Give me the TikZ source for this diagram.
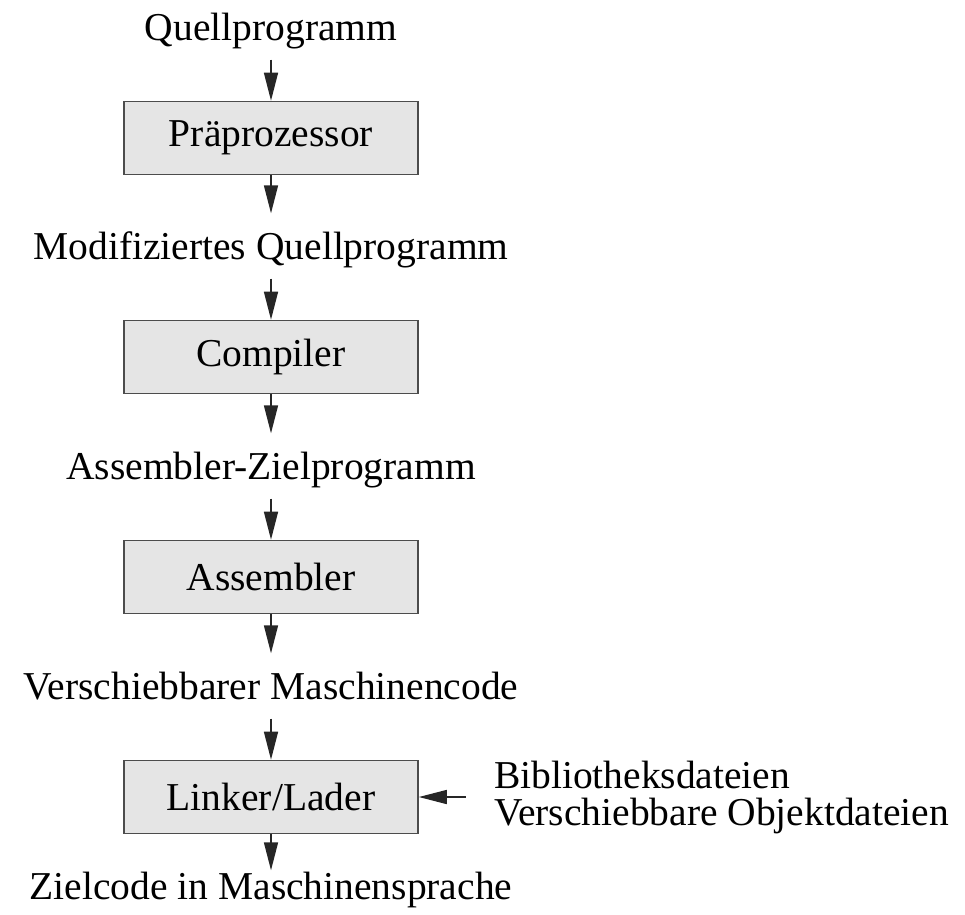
\documentclass[tikz,border=0pt]{standalone}
\usepackage{fontspec}
\setmainfont{Liberation Serif}
\usetikzlibrary{positioning, arrows.meta}

\begin{document}
\begin{tikzpicture}[
		x=1pt, y=1pt,
		% Define styles for the nodes
		stagebox/.style={
			rectangle, draw=black!70, fill=black!10, line width=1.6pt,
			text centered, minimum height=73pt, minimum width=294pt,
			inner sep=0pt, font=\fontsize{39.5}{35}\selectfont
		},
		datatext/.style={
			inner sep=0pt, text height=28pt, text depth=9pt,
			font=\fontsize{39.5}{35}\selectfont
		},
		libtext/.style={
			inner sep=0pt, align=left,
			font=\fontsize{39.5}{37}\selectfont
		},
		edge/.style={
			-{Triangle[length=28pt, width=14pt]}, line width=1.5pt, draw=black!85
		}
		]
		
		% Fix the margins of the picture
		\useasboundingbox (0,0) rectangle (965,-914);
		
		% Define the chain of programs and tools
		\node[datatext] (quelle) at (271,-31) {Quellprogramm};
		\node[stagebox, below=51pt of quelle] (praep) {Präprozessor};
		\node[datatext, below=56pt of praep] (modquelle) {Modifiziertes Quellprogramm};
		\node[stagebox, below=51pt of modquelle] (compiler) {Compiler};
		\node[datatext, below=57pt of compiler] (asmziel) {Assembler-Zielprogramm};
		\node[stagebox, below=51pt of asmziel] (assembler) {Assembler};
		\node[datatext, below=57pt of assembler] (maschcode) {Verschiebbarer Maschinencode};
		\node[stagebox, below=51pt of maschcode] (linker) {Linker/Lader};
		\node[datatext, below=37pt of linker] (ziel) {Zielcode in Maschinensprache};
		
		% Define the extra input of the linker
		\node[libtext, right=75pt of linker, yshift=0pt] (lib) {Bibliotheksdateien\\Verschiebbare Objektdateien};
		
		% Draw connections between the nodes
		\draw[edge, shorten <=10pt] (quelle) -- (praep);
		\draw[edge, shorten >=18pt] (praep) -- (modquelle);
		\draw[edge, shorten <=10pt] (modquelle) -- (compiler);
		\draw[edge, shorten >=18pt] (compiler) -- (asmziel);
		\draw[edge, shorten <=10pt] (asmziel) -- (assembler);
		\draw[edge, shorten >=18pt] (assembler) -- (maschcode);
		\draw[edge, shorten <=10pt] (maschcode) -- (linker);
		\draw[edge, shorten >=1pt] (linker) -- (ziel);
		\draw[edge, shorten <=28pt] (lib.west |- linker.east) -- (linker.east);
		
	\end{tikzpicture}
\end{document}
